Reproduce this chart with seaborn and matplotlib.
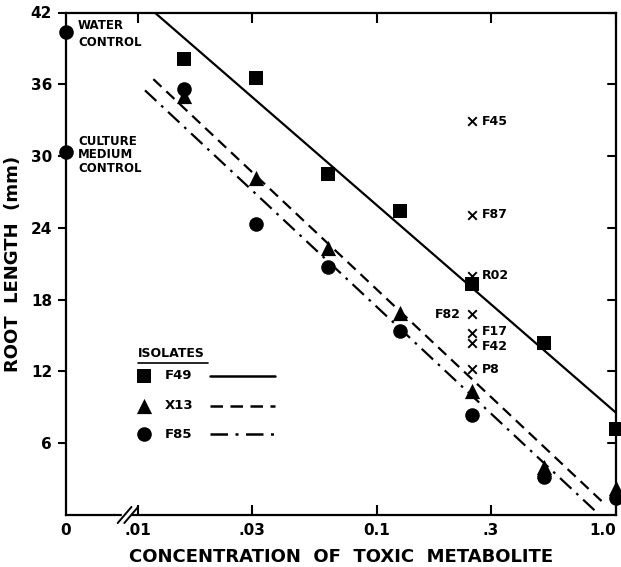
import numpy as np
import pandas as pd
import matplotlib
matplotlib.use("Agg")
import matplotlib.pyplot as plt
import seaborn as sns

# ---------------- data ----------------
conc = [1/64, 1/32, 1/16, 1/8, 1/4, 1/2, 1.0]
f49 = [38.1, 36.5, 28.5, 25.4, 19.3, 14.4, 7.2]
x13 = [35.0, 28.2, 22.3, 16.9, 10.4, 4.05, 2.23]
f85 = [35.6, 24.35, 20.7, 15.4, 8.4, 3.15, 1.4]

control_x = 0.005          # where the "0" concentration sits on the broken axis
control_values = [40.4, 30.3]
control_labels = ["WATER\nCONTROL", "CULTURE\nMEDIUM\nCONTROL"]

other_conc = 0.25
other_isolates = ["F45", "F87", "R02", "F82", "F17", "F42", "P8"]
other_values = [32.9, 25.1, 20.0, 16.8, 15.2, 14.4, 12.2]

xticks = [0.005, 0.01, 0.03, 0.1, 0.3, 1.0]
xticklabels = ["0", ".01", ".03", "0.1", ".3", "1.0"]
yticks = [6, 12, 18, 24, 30, 36, 42]

series_names = ["F49", "X13", "F85"]
series_values = [f49, x13, f85]
series_markers = ["s", "^", "o"]
series_sizes = [95, 120, 110]
series_dashes = ["-", (0, (5, 3)), (0, (7, 3, 1.2, 3))]
fit_ranges = [(0.0112, 1.0), (0.0116, 0.87), (0.0107, 0.843)]

# ---------------- figure ----------------
sns.set_style("ticks")
plt.rcParams["font.family"] = ["DejaVu Sans"]
plt.rcParams["font.weight"] = "bold"
for k in ["text.color", "axes.labelcolor", "xtick.color", "ytick.color", "axes.edgecolor"]:
    plt.rcParams[k] = "black"

fig = plt.figure(figsize=(6.21, 5.67), dpi=100)
ax = fig.add_axes([66 / 621, 1 - 515 / 567, 550 / 621, 502.5 / 567])
ax.set_xscale("log")
ax.set_xlim(0.005, 1.0)
ax.set_ylim(0, 42)

# regression lines (fit on log10 concentration)
for name, vals, ls, (x0, x1) in zip(series_names, series_values, series_dashes, fit_ranges):
    b, a = np.polyfit(np.log10(conc), vals, 1)
    xs = np.logspace(np.log10(x0), np.log10(x1), 50)
    ax.plot(xs, a + b * np.log10(xs), color="black", lw=1.6, linestyle=ls, zorder=2)

# data points
for name, vals, mk, sz in zip(series_names, series_values, series_markers, series_sizes):
    df = pd.DataFrame({"conc": conc, "length": vals})
    sns.scatterplot(data=df, x="conc", y="length", marker=mk, s=sz, color="black",
                    edgecolor="black", linewidth=0, ax=ax, zorder=3, clip_on=False, legend=False)

# controls
dfc = pd.DataFrame({"conc": [control_x] * len(control_values), "length": control_values})
sns.scatterplot(data=dfc, x="conc", y="length", marker="o", s=110, color="black",
                linewidth=0, ax=ax, zorder=4, clip_on=False, legend=False)
ax.text(0.022, 0.988, control_labels[0], transform=ax.transAxes, ha="left", va="top",
        fontsize=8.5, fontweight="bold", linespacing=1.45)
ax.text(0.022, 0.757, control_labels[1], transform=ax.transAxes, ha="left", va="top",
        fontsize=8.5, fontweight="bold", linespacing=1.05)

# other isolates (X marks)
dfo = pd.DataFrame({"conc": [other_conc] * len(other_values), "length": other_values})
sns.scatterplot(data=dfo, x="conc", y="length", marker="x", s=38, color="black",
                linewidth=1.4, ax=ax, zorder=3, legend=False)
label_dy = {"F17": 1.5, "F42": -3.0}
for name, v in zip(other_isolates, other_values):
    dy = label_dy.get(name, 0)
    if name == "F82":
        ax.annotate(name, (other_conc, v), xytext=(-8, dy), textcoords="offset points",
                    ha="right", va="center", fontsize=9, fontweight="bold")
    else:
        ax.annotate(name, (other_conc, v), xytext=(7, dy), textcoords="offset points",
                    ha="left", va="center", fontsize=9, fontweight="bold")

# ticks
ax.set_xticks(xticks)
ax.set_xticklabels(xticklabels)
ax.xaxis.set_minor_locator(matplotlib.ticker.NullLocator())
ax.set_yticks(yticks)
ax.tick_params(axis="x", which="major", direction="in", top=True, bottom=True,
               length=7, width=1.5, pad=6, labelsize=11)
ax.tick_params(axis="y", which="major", direction="out", left=True, length=6,
               width=1.5, pad=4, labelsize=11)
for lab in ax.get_xticklabels() + ax.get_yticklabels():
    lab.set_fontweight("bold")
xl = ax.get_xticklabels()
xl[-1].set_horizontalalignment("right")
xl[-1].set_x(1.0)
ax.xaxis.get_major_ticks()[0].tick1line.set_visible(False)
ax.xaxis.get_major_ticks()[0].tick2line.set_visible(False)
# inward ticks on the right
for y in yticks:
    ax.plot([0.985, 1.0], [(y) / 42] * 2, transform=ax.transAxes, color="black", lw=1.5,
            clip_on=False)

for sp in ax.spines.values():
    sp.set_linewidth(1.6)
    sp.set_color("black")

# axis break marks
ax.add_patch(plt.Rectangle((0.101, -0.01), 0.016, 0.02, transform=ax.transAxes,
                           color="white", zorder=5, clip_on=False))
for dx in (0.0, 0.012):
    ax.plot([0.094 + dx, 0.119 + dx], [-0.016, 0.016], transform=ax.transAxes,
            color="black", lw=1.4, clip_on=False, zorder=6)

ax.set_xlabel("CONCENTRATION  OF  TOXIC  METABOLITE", fontsize=13, fontweight="bold",
              labelpad=7)
ax.set_ylabel("ROOT  LENGTH  (mm)", fontsize=13, fontweight="bold", labelpad=6)

# legend (hand built)
ax.text(0.131, 0.322, "ISOLATES", transform=ax.transAxes, ha="left", va="center",
        fontsize=9, fontweight="bold")
ax.plot([0.131, 0.258], [0.303, 0.303], transform=ax.transAxes, color="black", lw=1.2)
leg_y = [0.277, 0.217, 0.161]
for name, mk, sz, ls, yy in zip(series_names, series_markers, series_sizes, series_dashes, leg_y):
    ax.scatter([0.141], [yy], marker=mk, s=sz, color="black", transform=ax.transAxes,
               linewidth=0)
    ax.text(0.18, yy, name, transform=ax.transAxes, ha="left", va="center",
            fontsize=9.5, fontweight="bold")
    ax.plot([0.262, 0.380], [yy, yy], transform=ax.transAxes, color="black", lw=1.8,
            linestyle=ls)

fig.savefig("out.png", dpi=100)
